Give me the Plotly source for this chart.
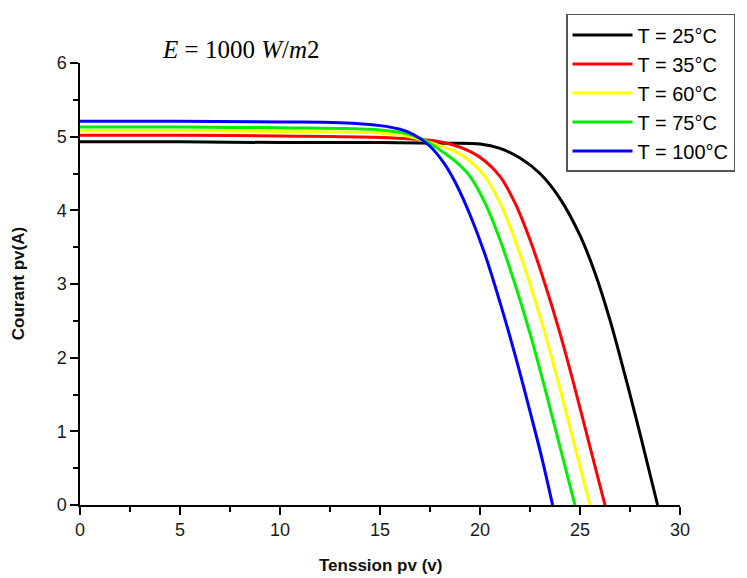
import plotly.graph_objects as go

# ---- data ----
labels = ["T = 25°C", "T = 35°C", "T = 60°C", "T = 75°C", "T = 100°C"]
colors = ["#000000", "#ff0000", "#ffff00", "#00ee00", "#0000ff"]

v_25 = [0, 5, 10, 15, 18, 20, 21, 22, 23, 24, 25, 25.75, 26.5, 27.25, 28, 28.88]
i_25 = [4.93, 4.93, 4.92, 4.92, 4.91, 4.90, 4.84, 4.71, 4.50, 4.16, 3.66, 3.15, 2.51, 1.76, 0.97, 0]

v_35 = [0, 5, 10, 15, 17.5, 18.5, 19.5, 20.25, 21, 21.75, 22.5, 23.25, 24, 24.75, 25.5, 26.25]
i_35 = [5.02, 5.02, 5.01, 4.99, 4.95, 4.9, 4.8, 4.67, 4.46, 4.1, 3.6, 3.0, 2.33, 1.58, 0.79, 0]

v_60 = [0, 5, 10, 15, 16.5, 17.75, 18.75, 19.5, 20.25, 21, 21.75, 22.5, 23.25, 24, 24.75, 25.5]
i_60 = [5.08, 5.08, 5.07, 5.05, 5.0, 4.9, 4.8, 4.67, 4.46, 4.1, 3.6, 3.0, 2.33, 1.58, 0.79, 0]

v_75 = [0, 5, 10, 15, 16.5, 17.25, 18.0, 18.75, 19.5, 20.25, 21, 21.75, 22.5, 23.25, 24.0, 24.75]
i_75 = [5.13, 5.13, 5.12, 5.09, 5.03, 4.95, 4.82, 4.67, 4.46, 4.1, 3.6, 3.0, 2.33, 1.58, 0.79, 0]

v_100 = [0, 5, 10, 13, 15, 16, 16.67, 17.5, 18.2, 18.8, 19.5, 20.25, 21, 21.75, 22.5, 23.1, 23.63]
i_100 = [5.21, 5.21, 5.2, 5.19, 5.15, 5.1, 5.03, 4.87, 4.64, 4.36, 3.94, 3.40, 2.75, 2.04, 1.27, 0.63, 0]

voltages = [v_25, v_35, v_60, v_75, v_100]
currents = [i_25, i_35, i_60, i_75, i_100]

x_ticks = [0, 5, 10, 15, 20, 25, 30]
y_ticks = [0, 1, 2, 3, 4, 5, 6]

fig = go.Figure()
for lab, col, v, i in zip(labels, colors, voltages, currents):
    fig.add_trace(go.Scatter(
        x=v, y=i, mode="lines", name=lab,
        line=dict(color=col, width=3, shape="spline", smoothing=1.0),
    ))

tick_font = dict(family="Liberation Sans, Arial", size=18, color="#1a1a1a")
axis_common = dict(
    showline=True, linecolor="#000000", linewidth=1.5,
    ticks="outside", ticklen=8, tickwidth=1.5, tickcolor="#000000",
    showgrid=False, zeroline=False, automargin=False,
    tickfont=tick_font,
    minor=dict(ticks="outside", ticklen=5, tickwidth=1.5, tickcolor="#000000", showgrid=False),
)

fig.update_xaxes(range=[0, 30], tickvals=x_ticks, minor_dtick=2.5, **axis_common)
fig.update_yaxes(range=[0, 6], tickvals=y_ticks, minor_dtick=0.5, **axis_common)

title_font = dict(family="Liberation Sans, Arial", size=17, color="#111111")
fig.add_annotation(xref="paper", yref="paper", x=0.5, y=-0.136, xanchor="center", yanchor="middle",
                   text="<b>Tenssion pv (v)</b>", showarrow=False, font=title_font)
fig.add_annotation(xref="paper", yref="paper", x=-0.103, y=0.5, xanchor="center", yanchor="middle",
                   text="<b>Courant pv(A)</b>", showarrow=False, textangle=-90, font=title_font)

fig.add_annotation(
    xref="paper", yref="paper", x=0.267, y=1.03, xanchor="center", yanchor="middle",
    text="<i>E</i> = 1000 <i>W</i>/<i>m</i>2", showarrow=False,
    font=dict(family="Liberation Serif, Times New Roman", size=25, color="#000000"),
)

# the page adds an 8 px body margin, so the figure is offset by 8 px
fig.update_layout(
    width=747, height=578,
    margin=dict(l=72, r=75, t=55, b=81, autoexpand=False),
    plot_bgcolor="white", paper_bgcolor="white",
    legend=dict(
        xref="container", yref="container",
        x=0.747, y=0.9897, xanchor="left", yanchor="top",
        bgcolor="white", bordercolor="#555555", borderwidth=1.5,
        font=dict(family="Liberation Sans, Arial", size=20, color="#000000"),
        itemwidth=60, tracegroupgap=0,
    ),
    showlegend=True,
)

fig.write_html("out.html")
